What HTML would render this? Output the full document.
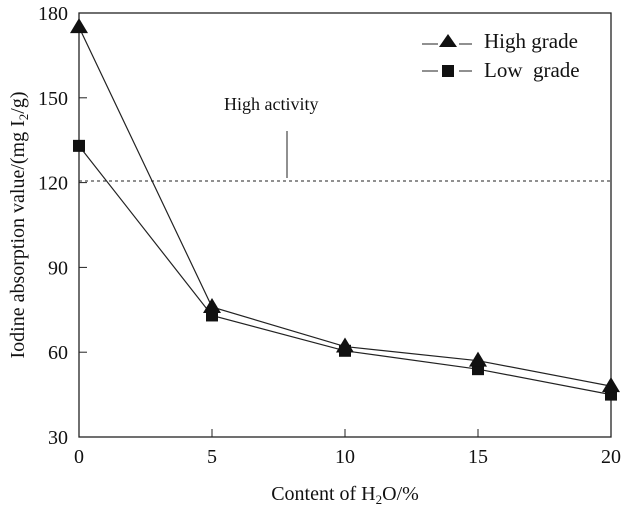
<!DOCTYPE html>
<html><head><meta charset="utf-8"><style>
body{margin:0;background:#fff}
svg text{font-family:"Liberation Serif",serif;fill:#111}
</style></head><body>
<svg id="chart" width="624" height="513">
<rect x="79" y="13" width="532" height="424" fill="none" stroke="#222" stroke-width="1.3"/>
<g id="axes"></g><g id="series"></g>
<line x1="79" y1="181" x2="611" y2="181" stroke="#222" stroke-dasharray="3,3"/>
<text x="224" y="110" font-size="18">High activity</text>
<line x1="287" y1="131" x2="287" y2="178" stroke="#222"/>
<g>
<line x1="422" y1="44" x2="438" y2="44" stroke="#222"/><line x1="459" y1="44" x2="472" y2="44" stroke="#222"/>
<polygon points="448,34 439,47 457,47" fill="#111"/>
<text x="484" y="48" font-size="21">High grade</text>
<line x1="422" y1="71" x2="438" y2="71" stroke="#222"/><line x1="459" y1="71" x2="472" y2="71" stroke="#222"/>
<rect x="442" y="65" width="12" height="12" fill="#111"/>
<text x="484" y="77" font-size="21">Low&#160; grade</text>
</g>
<text x="345" y="500" font-size="20" text-anchor="middle">Content of H<tspan font-size="13" dy="4">2</tspan><tspan dy="-4">O/%</tspan></text>
<text transform="translate(24,225) rotate(-90)" font-size="20" text-anchor="middle">Iodine absorption value/(mg I<tspan font-size="13" dy="4">2</tspan><tspan dy="-4">/g)</tspan></text>
</svg>
<script>
const xVals=[0,5,10,15,20];
const highGrade=[175,76,62,57,48];
const lowGrade=[133,73,60.5,54,45];
const yTicks=[30,60,90,120,150,180];
const xTicks=[0,5,10,15,20];
const NS="http://www.w3.org/2000/svg";
const X=v=>79+v/20*532, Y=v=>437-(v-30)/150*424;
function mk(t,a,p){const e=document.createElementNS(NS,t);for(const k in a)e.setAttribute(k,a[k]);p.appendChild(e);return e;}
const ax=document.getElementById('axes'), sg=document.getElementById('series');
yTicks.forEach(v=>{
 const t=mk('text',{x:68,y:Y(v)+7,'font-size':20,'text-anchor':'end'},ax);t.textContent=v;
 
 
 if(v>30&&v<180){const l=mk('line',{x1:79,x2:87,y1:Y(v),y2:Y(v),stroke:'#222'},ax);
 
 }
});
xTicks.forEach(v=>{
 const t=mk('text',{x:X(v),y:463,'font-size':20,'text-anchor':'middle'},ax);t.textContent=v;
 
 
 if(v>0&&v<20){const l=mk('line',{x1:X(v),x2:X(v),y1:437,y2:429,stroke:'#222'},ax);
 
 }
});
function series(vals,name,tri){
 const pl=mk('polyline',{points:xVals.map((x,i)=>X(x)+','+Y(vals[i])).join(' '),fill:'none',stroke:'#222','stroke-width':1.2},sg);
 
 
 xVals.forEach((x,i)=>{const cx=X(x),cy=Y(vals[i]);let m;
  if(tri)m=mk('polygon',{points:`${cx},${cy-9} ${cx-9},${cy+6} ${cx+9},${cy+6}`,fill:'#111'},sg);
  else m=mk('rect',{x:cx-6,y:cy-6,width:12,height:12,fill:'#111'},sg);
  
  });
}
series(lowGrade,'low-grade',false);
series(highGrade,'high-grade',true);
</script>
</body></html>
